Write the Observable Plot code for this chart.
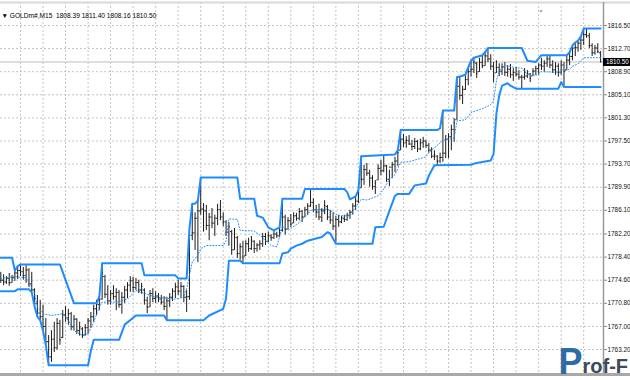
<!DOCTYPE html>
<html><head><meta charset="utf-8">
<script src="https://cdn.jsdelivr.net/npm/d3@7"></script>
<script src="https://cdn.jsdelivr.net/npm/@observablehq/plot@0.6"></script>
<style>html,body{margin:0;padding:0;background:#fff;overflow:hidden}#chart{width:630px;height:380px;overflow:hidden}</style>
</head><body><div id="chart"></div>
<script>
const headerText = "\u25BC GOLDm#,M15\u00a0 1808.39 1811.40 1808.16 1810.50";
const priceTicks = [1816.50,1812.70,1808.90,1805.10,1801.30,1797.50,1793.70,1789.90,1786.10,1782.20,1778.40,1774.60,1770.80,1767.00,1763.20];
const priceTickLabels = ["1816.50","1812.70","1808.90","1805.10","1801.30","1797.50","1793.70","1789.90","1786.10","1782.20","1778.40","1774.60","1770.80","1767.00","1763.20"];
const lastPrice = 1810.50;
const lastPriceLabel = "1810.50";
const gridBars = [7,15,23,31,39,47,55,63,71,79,87,95,103,111,119,127,135,143,151,159,167,175,183,191,199,207];
const watermarkP = "P";
const watermarkRest = "rof-F";

const barHigh = [
1775.9,1775.5,1775.2,1775.7,1775.4,1776.2,1776.9,1777.2,1776.7,1777.0,
1776.5,1775.9,1773.2,1772.1,1771.3,1770.5,1768.3,1765.5,1766.3,1767.7,
1768.3,1768.0,1769.6,1770.3,1769.8,1769.3,1768.8,1768.3,1767.7,1766.8,
1767.3,1768.3,1769.3,1770.5,1771.3,1771.9,1777.4,1775.4,1773.7,1772.9,
1773.7,1773.2,1772.9,1772.6,1773.6,1774.2,1775.2,1775.1,1774.9,1774.6,
1774.1,1773.2,1771.8,1772.9,1773.2,1772.7,1772.4,1772.1,1771.9,1771.8,
1772.4,1773.2,1774.1,1774.6,1774.2,1773.7,1772.9,1783.1,1787.2,1785.7,
1787.7,1791.5,1787.2,1786.9,1785.6,1786.4,1785.3,1787.1,1787.7,1785.7,
1784.4,1784.1,1782.8,1783.1,1781.8,1780.6,1781.0,1781.1,1781.5,1781.8,
1781.1,1780.6,1781.1,1782.3,1782.3,1782.5,1782.1,1782.8,1782.5,1783.3,
1788.0,1785.3,1784.9,1785.4,1785.7,1785.6,1786.4,1786.1,1786.6,1787.2,
1789.6,1788.0,1786.9,1787.1,1786.4,1787.7,1786.9,1786.1,1785.7,1785.1,
1785.3,1785.1,1785.3,1785.6,1786.1,1787.2,1788.2,1789.4,1795.0,1793.5,
1793.8,1792.7,1791.8,1791.0,1793.6,1794.3,1795.0,1793.5,1792.7,1794.0,
1794.8,1795.9,1799.3,1798.6,1798.2,1798.4,1797.6,1797.9,1797.6,1797.8,
1798.1,1797.6,1797.1,1796.4,1795.9,1795.1,1795.5,1802.5,1798.4,1798.7,
1800.1,1801.2,1808.0,1808.1,1806.5,1808.4,1809.6,1810.7,1811.2,1810.4,
1811.1,1811.6,1812.1,1812.7,1811.7,1810.4,1810.7,1810.2,1810.2,1810.4,
1809.9,1810.1,1809.4,1809.6,1809.1,1808.3,1809.4,1809.1,1808.6,1809.4,
1809.8,1810.2,1811.1,1810.7,1811.6,1811.4,1810.7,1810.4,1810.2,1810.7,
1810.4,1811.6,1812.1,1813.2,1813.7,1814.0,1814.7,1816.0,1816.0,1815.2,
1813.5,1813.2,1813.5,1812.2];
const barLow = [
1774.1,1773.7,1773.9,1773.6,1774.1,1774.4,1774.7,1775.2,1774.6,1774.1,
1773.4,1772.6,1770.3,1768.6,1768.0,1766.3,1763.9,1760.6,1761.1,1762.7,
1763.1,1763.9,1765.0,1767.7,1767.2,1766.3,1766.3,1765.7,1765.4,1765.0,
1765.4,1765.7,1766.7,1767.7,1768.8,1769.6,1771.3,1771.6,1770.5,1770.5,
1771.3,1769.6,1770.0,1769.0,1770.8,1771.6,1772.6,1772.6,1772.9,1772.4,
1772.3,1770.5,1769.1,1770.1,1770.9,1770.8,1770.9,1770.5,1769.6,1768.0,
1770.1,1771.1,1771.6,1772.1,1771.6,1770.9,1769.3,1771.3,1781.1,1779.5,
1777.5,1785.3,1782.5,1782.8,1781.1,1783.1,1781.8,1783.6,1784.4,1783.4,
1781.8,1780.2,1778.7,1779.5,1778.2,1777.9,1777.4,1778.5,1779.2,1779.5,
1779.0,1779.2,1779.5,1780.0,1780.3,1780.8,1781.0,1781.3,1781.5,1781.6,
1782.5,1782.0,1782.9,1783.3,1783.9,1784.3,1784.4,1784.1,1784.9,1785.3,
1786.6,1785.7,1784.8,1784.4,1784.1,1785.4,1784.4,1783.8,1782.8,1780.8,
1783.3,1783.9,1784.1,1784.3,1784.6,1785.3,1786.1,1787.2,1789.7,1790.2,
1791.7,1789.9,1789.4,1788.7,1791.0,1791.8,1792.3,1790.7,1790.0,1791.3,
1792.3,1793.3,1795.9,1796.4,1796.3,1796.8,1795.9,1796.1,1795.6,1795.9,
1796.3,1796.3,1795.5,1794.6,1794.3,1793.5,1793.8,1794.0,1794.6,1794.6,
1795.9,1797.3,1800.9,1804.2,1803.5,1805.8,1806.6,1808.0,1808.6,1807.8,
1808.8,1809.4,1809.8,1810.4,1809.1,1807.1,1808.6,1808.1,1808.3,1808.1,
1808.0,1807.8,1807.3,1808.0,1807.5,1806.1,1807.5,1807.8,1807.1,1808.1,
1808.3,1808.3,1809.1,1808.8,1809.6,1809.4,1808.6,1808.3,1808.0,1808.3,
1806.4,1809.1,1809.9,1810.7,1811.4,1812.1,1812.4,1813.2,1814.4,1812.7,
1811.4,1811.6,1811.9,1810.4];
const barOpen = [
1775.2,1774.6,1774.3,1774.9,1774.2,1775.0,1775.8,1776.2,1776.0,1775.4,
1776.3,1774.0,1773.0,1770.8,1769.2,1768.6,1767.0,1764.5,1762.0,1764.9,
1763.5,1767.5,1765.2,1768.9,1768.4,1769.1,1767.0,1768.2,1766.3,1766.6,
1765.6,1766.8,1767.9,1768.6,1769.9,1770.6,1771.5,1775.2,1772.3,1771.2,
1772.4,1771.9,1772.6,1770.6,1771.8,1773.0,1773.8,1774.5,1773.4,1774.2,
1773.0,1773.0,1771.3,1770.2,1772.4,1771.6,1772.0,1771.5,1771.0,1770.3,
1771.2,1771.8,1772.8,1773.5,1772.8,1773.6,1771.8,1771.9,1782.0,1782.4,
1784.8,1786.0,1786.3,1786.0,1783.6,1785.0,1784.0,1784.8,1786.2,1785.0,
1784.2,1782.5,1782.6,1779.6,1781.6,1779.0,1780.1,1778.6,1780.6,1779.8,
1781.0,1779.8,1780.4,1780.6,1781.8,1781.0,1781.9,1781.6,1782.2,1781.9,
1782.8,1785.0,1783.0,1784.4,1784.0,1785.2,1784.8,1785.9,1785.0,1786.2,
1786.8,1787.4,1786.2,1785.8,1785.0,1786.0,1786.7,1785.0,1784.5,1783.5,
1784.6,1784.2,1784.8,1784.6,1785.3,1785.8,1786.8,1787.6,1789.8,1791.2,
1792.8,1792.2,1791.4,1790.0,1791.1,1793.0,1792.6,1793.4,1791.2,1793.2,
1793.6,1794.2,1796.0,1797.8,1797.2,1797.6,1797.0,1796.6,1797.4,1796.2,
1797.2,1797.5,1796.8,1796.0,1795.0,1795.0,1794.2,1794.8,1795.5,1797.8,
1798.2,1799.4,1801.0,1806.5,1805.0,1806.0,1807.6,1808.9,1809.3,1810.3,
1808.9,1810.4,1809.9,1811.5,1811.0,1809.8,1808.7,1809.6,1809.0,1809.7,
1808.8,1809.3,1808.4,1808.8,1808.5,1808.0,1808.0,1808.2,1808.5,1808.2,
1809.0,1809.4,1810.0,1809.8,1810.3,1811.0,1810.0,1809.2,1809.8,1808.8,
1810.0,1809.2,1810.8,1811.4,1812.8,1812.9,1813.6,1814.1,1815.0,1814.8,
1813.2,1812.0,1812.8,1812.0];
const barClose = [
1774.6,1774.3,1774.9,1774.2,1775.0,1775.8,1776.2,1776.0,1775.4,1776.3,
1774.0,1773.0,1770.8,1769.2,1768.6,1767.0,1764.5,1762.0,1764.9,1763.5,
1767.5,1764.8,1768.9,1768.4,1769.1,1767.0,1768.2,1766.3,1766.9,1765.6,
1766.8,1767.9,1768.6,1769.9,1770.6,1771.5,1775.8,1772.3,1771.2,1772.4,
1771.9,1772.6,1770.6,1771.8,1773.0,1773.8,1774.5,1773.4,1774.2,1773.0,
1773.6,1771.3,1770.2,1772.4,1771.6,1772.0,1771.5,1771.0,1770.3,1771.2,
1771.8,1772.8,1773.5,1772.8,1773.6,1771.8,1771.9,1782.0,1782.4,1784.8,
1786.0,1786.3,1786.0,1783.6,1785.0,1784.0,1784.8,1786.2,1785.0,1784.2,
1782.5,1783.4,1779.6,1782.2,1779.0,1780.1,1778.4,1780.6,1779.8,1781.2,
1779.8,1780.4,1780.6,1781.8,1781.0,1781.9,1781.6,1782.2,1781.9,1782.8,
1785.0,1783.0,1784.4,1783.8,1785.2,1784.8,1785.9,1785.0,1786.2,1786.8,
1787.4,1786.2,1785.8,1785.0,1786.0,1786.9,1785.0,1784.5,1783.5,1784.6,
1784.2,1784.8,1784.6,1785.3,1785.8,1786.8,1787.6,1789.0,1791.2,1792.8,
1792.2,1791.4,1790.0,1790.6,1793.0,1792.6,1793.4,1791.2,1793.2,1793.6,
1794.2,1795.6,1797.8,1797.2,1797.6,1797.0,1796.6,1797.4,1796.2,1797.2,
1797.5,1796.8,1796.0,1795.0,1795.3,1794.2,1794.8,1795.5,1797.8,1798.2,
1799.4,1800.5,1806.5,1805.0,1806.0,1807.6,1808.9,1809.3,1810.5,1808.6,
1810.4,1809.9,1811.5,1811.0,1809.8,1808.2,1809.6,1809.0,1809.7,1808.8,
1809.3,1808.4,1808.8,1808.5,1808.0,1808.0,1808.2,1808.6,1807.8,1809.0,
1809.4,1810.0,1809.8,1810.3,1811.0,1810.0,1809.2,1809.8,1808.8,1810.0,
1809.0,1810.8,1811.4,1812.8,1812.9,1813.6,1814.1,1815.0,1814.8,1813.2,
1812.0,1812.8,1812.2,1810.5];

const upperIdx = [0,4,5,6,7,21,26,34,35,36,50,51,62,63,66,67,68,69,70,71,84,85,90,91,93,95,97,99,100,107,108,122,123,124,126,127,128,140,141,142,155,156,157,161,162,163,165,166,167,168,171,172,173,185,187,190,191,192,201,202,203,204,205,206,207,213];
const upperVal = [1778.3,1778.3,1776.2,1776.9,1777.2,1777.2,1770.8,1770.8,1771.9,1777.4,1777.4,1775.4,1775.4,1774.9,1774.9,1783.1,1787.2,1787.2,1787.7,1791.5,1791.5,1788.0,1788.0,1785.2,1784.9,1783.3,1782.8,1783.3,1788.0,1788.0,1789.6,1789.6,1789.1,1787.9,1788.4,1789.4,1795.0,1795.3,1796.0,1799.3,1799.3,1799.6,1802.5,1802.5,1808.0,1808.1,1808.4,1809.6,1810.7,1811.2,1811.6,1812.1,1812.8,1812.8,1810.7,1810.5,1811.1,1811.6,1811.6,1812.1,1813.2,1813.7,1814.0,1814.7,1816.0,1816.0];

const lowerIdx = [0,5,6,10,11,12,13,14,15,16,17,31,32,33,42,44,48,58,59,72,74,79,80,81,85,86,99,100,102,103,105,107,109,114,116,117,119,132,133,136,138,140,141,145,147,151,152,154,167,169,174,175,176,177,178,180,181,183,198,199,200,213];
const lowerVal = [1772.8,1772.8,1773.1,1773.1,1772.6,1770.3,1768.6,1768.0,1766.3,1763.9,1760.6,1760.6,1763.0,1764.8,1764.8,1767.3,1768.8,1768.8,1768.0,1768.0,1768.8,1769.9,1771.6,1777.8,1777.8,1777.4,1777.4,1779.0,1779.2,1779.8,1780.3,1780.6,1781.1,1781.7,1782.5,1782.3,1780.6,1780.6,1783.3,1783.4,1786.0,1788.5,1788.8,1788.8,1790.2,1790.5,1791.8,1793.5,1793.6,1793.9,1794.3,1795.4,1802.0,1805.0,1806.6,1807.0,1806.6,1806.1,1806.1,1807.2,1806.4,1806.4];

const midIdx = [0,5,9,10,12,13,15,18,22,24,26,29,31,33,35,36,41,45,48,50,55,62,65,66,68,70,71,73,79,80,81,84,85,90,92,96,98,100,102,106,108,109,110,116,118,120,124,126,128,130,133,134,136,138,140,142,145,151,152,154,157,161,162,165,167,171,174,175,176,177,178,180,183,185,187,190,192,198,199,200,202,203,205,207,213];
const midVal = [1774.9,1775.2,1775.0,1774.1,1772.4,1770.2,1769.1,1768.8,1769.1,1768.0,1766.3,1765.5,1765.8,1767.7,1770.2,1771.0,1771.0,1771.5,1772.9,1772.6,1771.8,1771.5,1771.8,1773.2,1777.6,1778.7,1779.8,1780.3,1780.3,1781.1,1784.7,1784.6,1782.8,1782.7,1782.0,1780.3,1780.1,1783.5,1782.8,1784.1,1785.1,1785.4,1786.1,1786.3,1785.8,1785.2,1785.2,1786.6,1787.9,1787.8,1788.3,1788.5,1789.6,1791.2,1792.0,1794.0,1794.1,1794.9,1795.6,1796.4,1797.6,1798.0,1800.8,1801.0,1802.2,1802.8,1803.5,1804.1,1807.4,1808.9,1809.7,1809.9,1809.5,1809.5,1808.4,1808.3,1808.9,1808.8,1809.4,1809.0,1809.3,1809.8,1810.2,1811.2,1811.2];

const bars = barHigh.map((h, i) => ({i, o: barOpen[i], h, l: barLow[i], c: barClose[i]}));
const upper = upperIdx.map((i, k) => ({i, v: upperVal[k]}));
const lower = lowerIdx.map((i, k) => ({i, v: lowerVal[k]}));
const mid = midIdx.map((i, k) => ({i, v: midVal[k]}));
const labelOf = new Map(priceTicks.map((t, k) => [t, priceTickLabels[k]]));

const W = 630, H = 380, mL = 0, mR = 27, mT = 2, mB = 7;
const xDomain = [-0.1, 214.03];
const yDomain = [1759.26, 1820.28];
const xFull = xDomain[1] + (xDomain[1] - xDomain[0]) * mR / (W - mL - mR);
const blue = "#1e8cff";
const barColor = "#1c1c1c";

const chart = Plot.plot({
  width: W, height: H,
  marginLeft: mL, marginRight: mR, marginTop: mT, marginBottom: mB,
  x: {domain: xDomain, axis: null},
  y: {domain: yDomain, axis: null},
  style: {fontFamily: "'Liberation Sans', Arial, sans-serif", fontSize: "6.6px", background: "#fff", color: "#000"},
  marks: [
    Plot.gridY(priceTicks, {stroke: "#c4c4c4", strokeOpacity: 1, strokeDasharray: "2,2"}),
    Plot.gridX(gridBars, {stroke: "#c4c4c4", strokeOpacity: 1, strokeDasharray: "2,2"}),
    Plot.ruleY([lastPrice], {stroke: "#bdbdbd"}),
    Plot.ruleX(bars, {x: "i", y1: "l", y2: "h", stroke: barColor}),
    Plot.ruleY(bars, {y: "o", x1: d => d.i - 0.45, x2: "i", stroke: barColor}),
    Plot.ruleY(bars, {y: "c", x1: "i", x2: d => d.i + 0.45, stroke: barColor}),
    Plot.line(mid, {x: "i", y: "v", stroke: blue, strokeWidth: 1, strokeDasharray: "1,2"}),
    Plot.line(upper, {x: "i", y: "v", stroke: blue, strokeWidth: 2}),
    Plot.line(lower, {x: "i", y: "v", stroke: blue, strokeWidth: 2}),
    Plot.ruleY([yDomain[1]], {stroke: "#d8d8d8", strokeWidth: 2, x1: xDomain[0], x2: xFull}),
    Plot.ruleY([yDomain[0]], {stroke: "#a8a8a8", strokeWidth: 3, x1: xDomain[0], x2: xFull, dy: 1}),
    Plot.ruleX([xDomain[1]], {stroke: "#9a9a9a", strokeWidth: 1.5}),
    Plot.axisY(priceTicks, {anchor: "right", tickSize: 3, tickPadding: 1, tickFormat: d => labelOf.get(d), stroke: "#888", fill: "#111", fontSize: 6.4, label: null}),
    Plot.ruleY([lastPrice], {x1: xDomain[1], x2: xFull, stroke: "#000", strokeWidth: 8}),
    Plot.text([lastPriceLabel], {x: xDomain[1], y: lastPrice, dx: 2.5, textAnchor: "start", fill: "#fff", fontSize: 6.3}),
    Plot.text([headerText], {frameAnchor: "top-left", dx: 1, dy: 13.5, lineAnchor: "middle", textAnchor: "start", fill: "#000", fontSize: 6.6}),
    Plot.text(["\u25BC"], {frameAnchor: "top-right", dx: -60, dy: 9, lineAnchor: "middle", fill: "#a0a0a0", fontSize: 5}),
    Plot.text([watermarkP], {frameAnchor: "bottom-right", dx: -45, dy: 0, lineAnchor: "bottom", textAnchor: "start", fill: "#2e6da4", fontSize: 36, fontWeight: "bold"}),
    Plot.text([watermarkRest], {frameAnchor: "bottom-right", dx: -21, dy: -1, lineAnchor: "bottom", textAnchor: "start", fill: "#3d4a57", fontSize: 20, fontWeight: "bold"})
  ]
});
document.getElementById("chart").appendChild(chart);
</script>
</body></html>
